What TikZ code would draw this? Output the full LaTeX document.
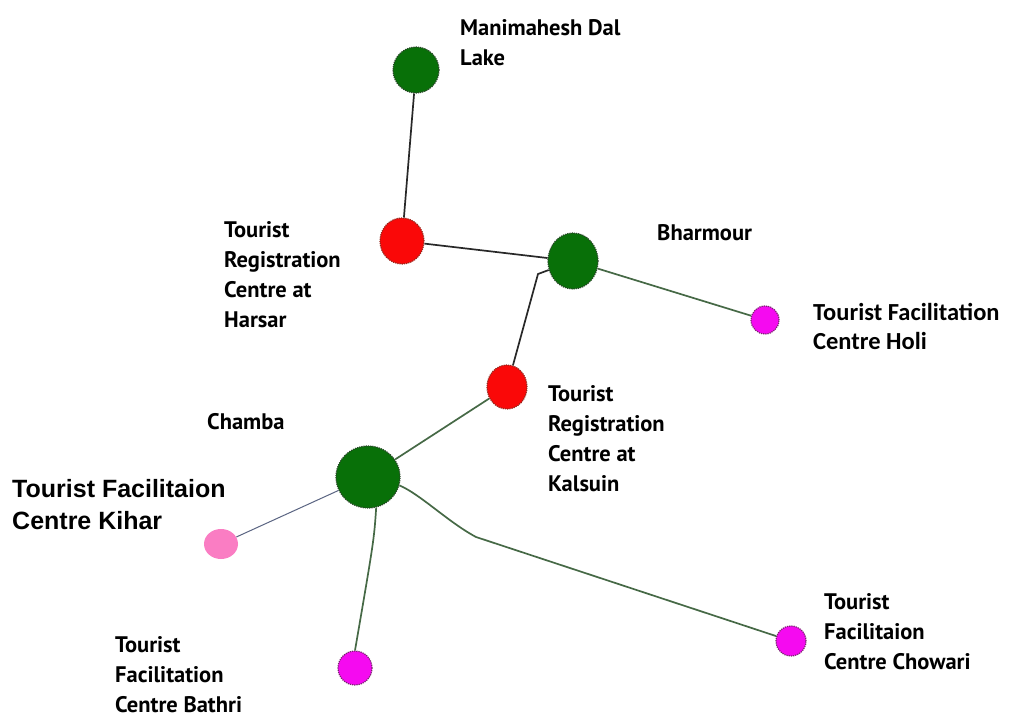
\documentclass[tikz,border=0pt]{standalone}
\usepackage{fontspec}
\setmainfont{PT Sans}
\newfontfamily\arialb{Liberation Sans}[BoldFont={* Bold}]
\newfontfamily\calib{Carlito}[BoldFont={* Bold}]
\usetikzlibrary{shapes.geometric}
\definecolor{gfill}{RGB}{8,112,8}
\definecolor{gdraw}{RGB}{40,70,40}
\definecolor{rfill}{RGB}{250,8,8}
\definecolor{rdraw}{RGB}{150,40,30}
\definecolor{mfill}{RGB}{245,10,240}
\definecolor{mdraw}{RGB}{120,40,110}
\definecolor{pfill}{RGB}{250,125,195}
\definecolor{edgek}{RGB}{40,40,40}
\definecolor{edgeg}{RGB}{70,105,70}
\definecolor{edgeb}{RGB}{90,100,130}
\tikzset{
  spot/.style={ellipse,inner sep=0pt,line width=1.2pt,densely dotted},
  greenspot/.style={spot,fill=gfill,draw=gdraw},
  redspot/.style={spot,fill=rfill,draw=rdraw},
  magspot/.style={spot,fill=mfill,draw=mdraw},
  pinkspot/.style={ellipse,inner sep=0pt,fill=pfill},
  lbl/.style={align=left,inner sep=0pt,anchor=north west,font=\bfseries\fontsize{22.5}{30}\selectfont},
  ekline/.style={draw=edgek,line width=1.7pt},
  egline/.style={draw=edgeg,line width=1.7pt},
  ebline/.style={draw=edgeb,line width=1pt}
}
\begin{document}
\begin{tikzpicture}[x=1pt,y=-1pt]
\useasboundingbox[fill=white] (0,0) rectangle (1013,719);
% nodes
\node[greenspot,minimum width=46pt,minimum height=46pt] (man) at (416,70) {};
\node[redspot,minimum width=44pt,minimum height=46pt] (har) at (402,241) {};
\node[greenspot,minimum width=50pt,minimum height=56pt] (bha) at (573,261) {};
\node[magspot,minimum width=28pt,minimum height=28pt] (hol) at (765,320) {};
\node[redspot,minimum width=40pt,minimum height=44pt] (kal) at (507,387) {};
\node[greenspot,minimum width=64pt,minimum height=62pt] (cha) at (368,477) {};
\node[pinkspot,minimum width=34pt,minimum height=30pt] (kih) at (221,544) {};
\node[magspot,minimum width=34pt,minimum height=34pt] (bat) at (355,668) {};
\node[magspot,minimum width=30pt,minimum height=30pt] (cho) at (791,641) {};
% connectors
\draw[ekline] (man) -- (har);
\draw[ekline] (har) -- (bha);
\coordinate (kb) at (538,274);
\draw[ekline] (kal) -- (kb) -- (bha);
\draw[egline] (bha) -- (hol);
\draw[egline] (kal) -- (cha);
\draw[ebline] (cha) -- (kih);
\draw[egline] (cha.285) .. controls (374,540) .. (bat.north);
\coordinate (chb) at (476,537);
\draw[egline] (cha.-15) .. controls (420,494) and (448,522) .. (chb) -- (cho);
% labels
\node[lbl] (lman) at (460,19) {Manimahesh Dal\\Lake};
\node[lbl] (lhar) at (224,221) {Tourist\\Registration\\Centre at\\Harsar};
\node[lbl] (lbha) at (657,224) {Bharmour};
\node[lbl,font=\calib\bfseries\fontsize{24.5}{29}\selectfont] (lhol) at (813,303) {Tourist Facilitation\\Centre Holi};
\node[lbl] (lkal) at (548,385) {Tourist\\Registration\\Centre at\\Kalsuin};
\node[lbl] (lcha) at (207,413) {Chamba};
\node[lbl,font=\arialb\bfseries\fontsize{25}{32}\selectfont] (lkih) at (12,479) {Tourist Facilitaion\\Centre Kihar};
\node[lbl] (lbat) at (115,636) {Tourist\\Facilitation\\Centre Bathri};
\node[lbl] (lcho) at (824,593) {Tourist\\Facilitaion\\Centre Chowari};
\end{tikzpicture}
\end{document}
